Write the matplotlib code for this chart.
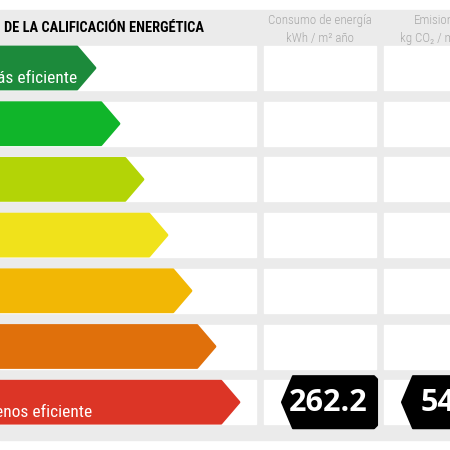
import matplotlib
matplotlib.use('Agg')
from matplotlib import pyplot as plt
from matplotlib.patches import Polygon, Rectangle

# energy classes, best to worst (letters are cut off in the picture)
classes = ['A', 'B', 'C', 'D', 'E', 'F', 'G']
class_colors = ['#1c8a3b', '#10b52a', '#b3d406', '#f0e21b',
                '#f2b705', '#e0700b', '#dc3526']
best_label = 'más eficiente'
worst_label = 'menos eficiente'
title = 'DE LA CALIFICACIÓN ENERGÉTICA'
col_headers = [('Consumo de energía', 'kWh / m² año'),
               ('Emisiones', 'kg CO₂ / m² año')]
rated_class = 'G'
values = ['262.2', '54']

narrow = ['Roboto Condensed', 'DejaVu Sans']
grey = '#ebebeb'

fig = plt.figure(figsize=(4.5, 4.5), dpi=100)
ax = fig.add_axes([0, 0, 1, 1])
ax.set_xlim(0, 450)
ax.set_ylim(450, 0)
ax.axis('off')

ax.add_patch(Rectangle((0, 10), 450, 430, color=grey, zorder=0))

row_top, pitch, row_h = 46, 55.7, 44
cols = [(0, 256), (264, 376), (384, 496)]

for i, c in enumerate(classes):
    yt = row_top + i * pitch
    yb = yt + row_h
    ym = (yt + yb) / 2
    for x0, x1 in cols:
        ax.add_patch(Rectangle((x0, yt), x1 - x0, row_h, color='white', zorder=1))
    tip = 96 + 24 * i
    arrow = Polygon([(-10, yt + 1), (tip - 19, yt + 1), (tip - 1, ym),
                     (tip - 19, yb - 1), (-10, yb - 1)], closed=True,
                    facecolor=class_colors[i], edgecolor=class_colors[i],
                    lw=2, joinstyle='round', zorder=2)
    ax.add_patch(arrow)
    if i == 0:
        ax.text(77, yb - 7, best_label, color='white', fontsize=12.5,
                family=narrow, ha='right', va='baseline', zorder=3)
    if i == len(classes) - 1:
        ax.text(92, yb - 7, worst_label, color='white', fontsize=12.5,
                family=narrow, ha='right', va='baseline', zorder=3)
    if c == rated_class:
        for j, (x0, x1) in enumerate(cols[1:]):
            bl = x0 + 18
            br = bl + 95
            badge = Polygon([(bl, ym), (bl + 11, yt - 4), (br - 3, yt - 4),
                             (br, yt - 1), (br, yb + 1), (br - 3, yb + 4),
                             (bl + 11, yb + 4)], closed=True,
                            facecolor='black', edgecolor='black', lw=1.5,
                            joinstyle='round', zorder=3)
            ax.add_patch(badge)
            if j == 0:
                ax.text((bl + br) / 2 - 1, ym + 1, values[j], color='white',
                        fontsize=22, fontweight='bold', family='Open Sans',
                        ha='center', va='center', zorder=4)
            else:
                ax.text(bl + 19, ym + 1, values[j], color='white',
                        fontsize=22, fontweight='bold', family='Open Sans',
                        ha='left', va='center', zorder=4)

ax.text(4, 32, title, fontsize=10.4, fontweight='bold', family=narrow,
        color='black', ha='left', va='baseline', zorder=3)
for (x0, x1), (h1, h2) in zip(cols[1:], col_headers):
    cx = (x0 + x1) / 2
    ax.text(cx, 24, h1, fontsize=9.4, fontweight='light', family=narrow,
            color='#a8a8a8', ha='center', va='baseline', zorder=3)
    ax.text(cx, 42, h2, fontsize=9.4, fontweight='light', family=narrow,
            color='#a8a8a8', ha='center', va='baseline', zorder=3)

plt.savefig('out.png', dpi=100)
